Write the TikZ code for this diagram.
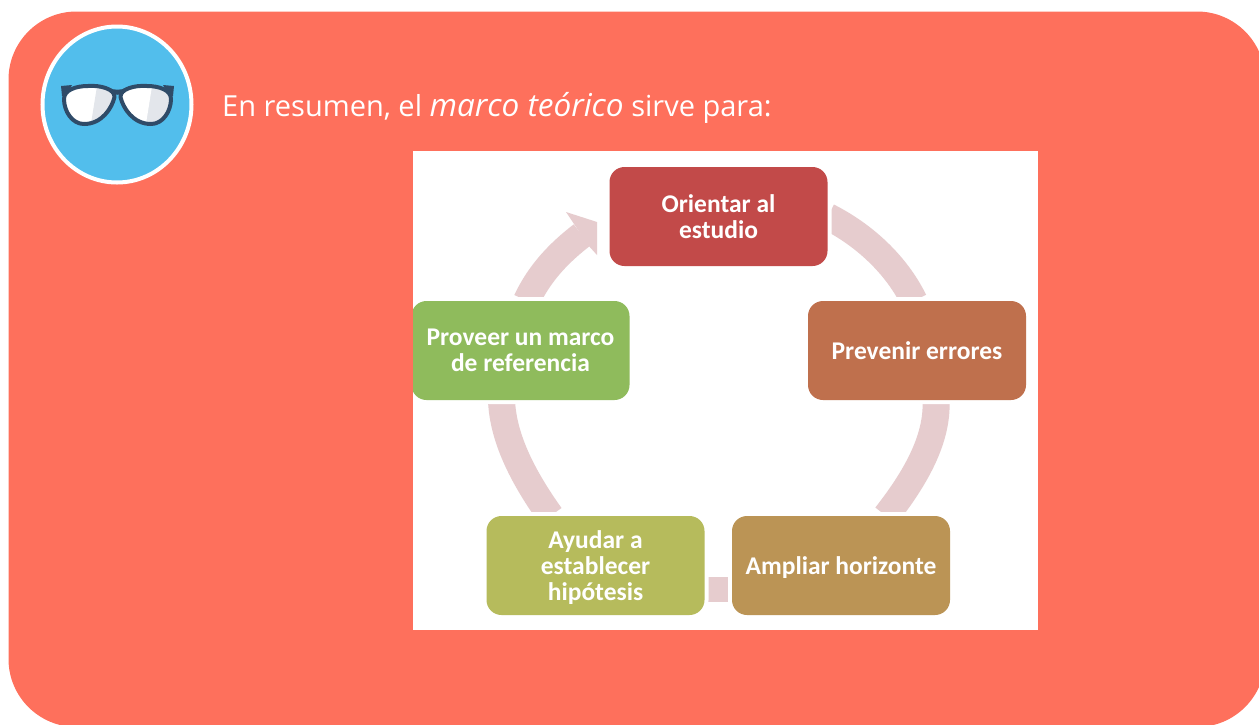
\documentclass[tikz,border=0pt]{standalone}
\usepackage{fontspec}
\setmainfont{Open Sans}
\newfontfamily\boxfont{Carlito}
\usetikzlibrary{calc}
\definecolor{salmon}{HTML}{FE705C}
\definecolor{skyblue}{HTML}{52BEEC}
\definecolor{framecol}{HTML}{2F4B68}
\definecolor{lensgrey}{HTML}{E3E6EB}
\definecolor{ringcol}{HTML}{E6CCCE}
\definecolor{cred}{HTML}{C24A49}
\definecolor{corange}{HTML}{BF704D}
\definecolor{cbrown}{HTML}{BB9455}
\definecolor{colive}{HTML}{B6BB5C}
\definecolor{cgreen}{HTML}{8FBB5C}
\pgfdeclarelayer{base}
\pgfdeclarelayer{ring}
\pgfsetlayers{base,ring,main}
\tikzset{
  x=1pt,y=-1pt,
  cyclebox/.style={minimum width=218pt,minimum height=99pt,inner sep=0pt,rounded corners=15pt,
    text=white,align=center,font=\boxfont\bfseries\fontsize{25.5}{25.7}\selectfont,
    preaction={draw=white,line width=8pt}},
  ringline/.style={draw=ringcol,line width=27pt},
  lensline/.style={draw=framecol,line width=4pt,line join=round}
}
\newcommand{\lensshape}{(88,86) .. controls (100,85) and (115,89) .. (114.5,97)
  .. controls (112,108) and (102,124) .. (84,124) .. controls (72,124) and (64,111) .. (64,99)
  .. controls (64,90) and (76,86) .. (88,86) -- cycle}
\newcommand{\lowered}[1]{\raisebox{-2pt}[\height][\depth]{#1}}
\begin{document}
\begin{tikzpicture}
\useasboundingbox (0,0) rectangle (1259,724);
\begin{pgfonlayer}{base}
  \fill[salmon,rounded corners=68pt] (8.5,11.5) rectangle (1265,727);
  \fill[white] (413,151) rectangle (1038,630);
\end{pgfonlayer}

% badge
\fill[skyblue,draw=white,line width=4pt] (117,104.5) ellipse [x radius=74.5,y radius=78];
\fill[framecol] (61,86) -- (72,85) -- (66,96) -- (62,96) -- cycle;
\fill[framecol] (174,86) -- (163,85) -- (169,96) -- (173,96) -- cycle;
\draw[framecol,line width=5pt] (108,90) .. controls (113,93) and (122,93) .. (127,90);
\begin{scope}
  \clip \lensshape;
  \fill[white] (55,80) rectangle (120,130);
  \fill[lensgrey] (98,80) -- (120,80) -- (120,130) -- (90,130) -- cycle;
\end{scope}
\draw[lensline] \lensshape;
\begin{scope}[xshift=235pt,xscale=-1]
  \clip \lensshape;
  \fill[lensgrey] (55,80) rectangle (120,130);
  \fill[white] (82,80) -- (120,80) -- (120,130) -- (90,130) -- cycle;
\end{scope}
\begin{scope}[xshift=235pt,xscale=-1]
  \draw[lensline] \lensshape;
\end{scope}

\node[anchor=base west,inner sep=0pt,text=white,font=\fontsize{29}{32}\selectfont] (titulo) at (222,116)
  {En resumen, el {\fontsize{31.5}{32}\selectfont\textit{marco teórico}} sirve para:};

% cycle boxes
\begin{scope}
  \clip (413,151) rectangle (1038,630);
  \node[cyclebox,fill=cred] (orient) at (718.5,216.5) {Orientar al\\estudio};
  \node[cyclebox,fill=corange] (prev) at (917,350.5) {Prevenir errores};
  \node[cyclebox,fill=cbrown] (ampl) at (841,565.5) {\lowered{Ampliar horizonte}};
  \node[cyclebox,fill=colive] (ayud) at (595.5,565.5) {\lowered{Ayudar a}\\\lowered{establecer}\\\lowered{hipótesis}};
  \node[cyclebox,fill=cgreen] (prov) at (520.5,350.5) {Proveer un marco\\de referencia};
\end{scope}

% ring connectors, cut by the white halo of the boxes
\begin{pgfonlayer}{ring}
  \draw[ringline] (orient.east) .. controls (870,238) and (899,270) .. ($(prev.north)+(-3,0)$);
  \draw[ringline] ($(prev.south)+(19,0)$) .. controls (938,440) and (914,480) .. ($(ampl.north)+(45,0)$);
  \draw[draw=ringcol,line width=25pt] ($(ampl.west)+(0,24)$) -- ($(ayud.east)+(0,24)$);
  \draw[ringline] ($(ayud.north)+(-45,0)$) .. controls (525,480) and (503,440) .. ($(prov.south)+(-19,0)$);
  \coordinate (shaftend) at (582,235);
  \coordinate (barbA) at (566,212);
  \coordinate (tipA) at (597,222);
  \coordinate (tipB) at (597,255);
  \coordinate (barbB) at (588,245);
  \draw[ringline] ($(prov.north)+(6,0)$) .. controls (540,272) and (560,252) .. (shaftend);
  \fill[ringcol] (barbA) -- (tipA) -- (tipB) -- (barbB) -- cycle;
\end{pgfonlayer}
\end{tikzpicture}
\end{document}
